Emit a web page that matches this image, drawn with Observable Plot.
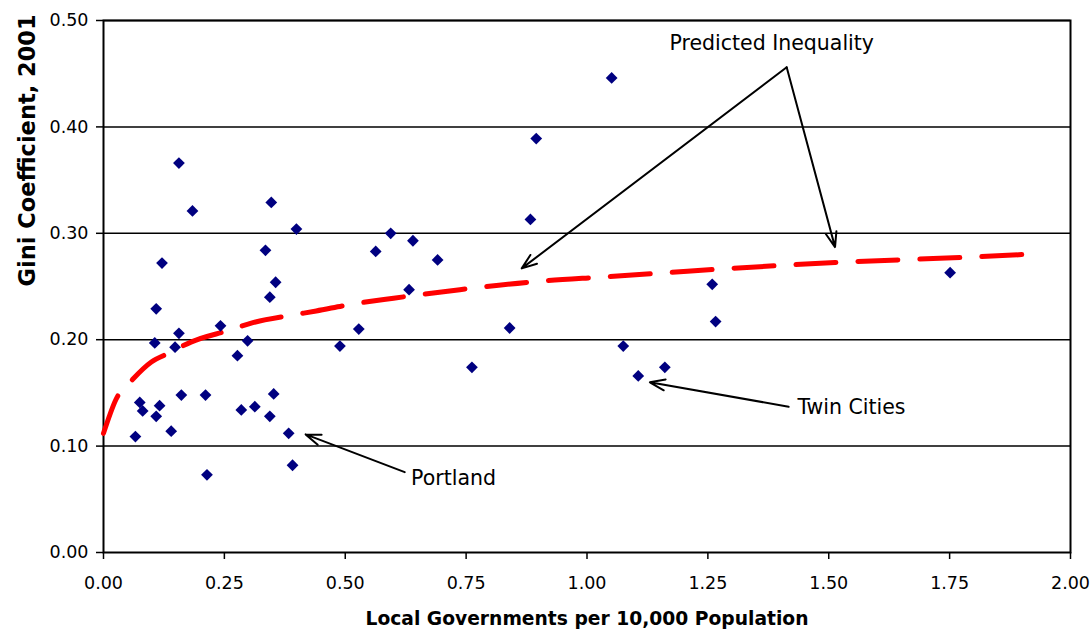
<!DOCTYPE html>
<html>
<head>
<meta charset="utf-8">
<script src="https://cdn.jsdelivr.net/npm/d3@7"></script>
<script src="https://cdn.jsdelivr.net/npm/@observablehq/plot@0.6"></script>
<style>
  html, body { margin: 0; padding: 0; background: #fff; }
</style>
</head>
<body>
<div id="chart"></div>
<script>
// Local governments per 10,000 population (x) and Gini coefficient 2001 (y)
const govs = [0.156, 0.184, 0.121, 0.109, 0.106, 0.148, 0.156, 0.242, 0.277, 0.298,
              0.335, 0.347, 0.356, 0.344, 0.399, 0.075, 0.081, 0.116, 0.109, 0.161,
              0.211, 0.066, 0.140, 0.285, 0.313, 0.344, 0.352, 0.383, 0.391, 0.214,
              0.489, 0.528, 0.563, 0.594, 0.640, 0.691, 0.632, 0.762, 0.840, 0.883,
              0.895, 1.051, 1.075, 1.106, 1.161, 1.259, 1.266, 1.751];
const gini = [0.366, 0.321, 0.272, 0.229, 0.197, 0.193, 0.206, 0.213, 0.185, 0.199,
              0.284, 0.329, 0.254, 0.240, 0.304, 0.141, 0.133, 0.138, 0.128, 0.148,
              0.148, 0.109, 0.114, 0.134, 0.137, 0.128, 0.149, 0.112, 0.082, 0.073,
              0.194, 0.210, 0.283, 0.300, 0.293, 0.275, 0.247, 0.174, 0.211, 0.313,
              0.389, 0.446, 0.194, 0.166, 0.174, 0.252, 0.217, 0.263];

// Predicted inequality curve
const predX = [0.000, 0.026, 0.061, 0.099, 0.133, 0.182, 0.261, 0.309, 0.389, 0.440,
               0.509, 0.600, 0.737, 0.903, 1.034, 1.165, 1.296, 1.513, 1.810, 1.944];
const predY = [0.112, 0.144, 0.163, 0.179, 0.187, 0.198, 0.209, 0.216, 0.223, 0.227,
               0.233, 0.239, 0.247, 0.255, 0.259, 0.263, 0.267, 0.2725, 0.278, 0.281];

// Tick values
const xTicks = [0, 0.25, 0.5, 0.75, 1.0, 1.25, 1.5, 1.75, 2.0];
const yTicks = [0, 0.1, 0.2, 0.3, 0.4, 0.5];

// Annotation labels and their arrows
const noteText = ["Predicted Inequality", "Portland", "Twin Cities"];
const noteX = [1.382, 0.724, 1.547];
const noteY = [0.478, 0.0695, 0.136];
const arrowX1 = [1.413, 1.413, 0.623, 1.417];
const arrowY1 = [0.456, 0.456, 0.0755, 0.137];
const arrowX2 = [0.865, 1.513, 0.418, 1.130];
const arrowY2 = [0.267, 0.287, 0.111, 0.160];

const xTitle = "Local Governments per 10,000 Population";
const yTitle = "Gini Coefficient, 2001";

const points = govs.map((x, i) => ({x, y: gini[i]}));
const curve = predX.map((x, i) => ({x, y: predY[i]}));
const notes = noteText.map((t, i) => ({t, x: noteX[i], y: noteY[i]}));
const arrows = arrowX1.map((x1, i) => ({x1, y1: arrowY1[i], x2: arrowX2[i], y2: arrowY2[i]}));

const chart = Plot.plot({
  width: 1092,
  height: 634,
  marginLeft: 103,
  marginRight: 22,
  marginTop: 20,
  marginBottom: 82,
  style: {fontFamily: "'DejaVu Sans', sans-serif", fontSize: "17.5px", color: "#000", background: "#fff"},
  x: {domain: [0, 2], label: null},
  y: {domain: [0, 0.5], label: null},
  marks: [
    Plot.ruleY(yTicks.filter(d => d > 0), {stroke: "#000", strokeWidth: 1.5}),
    Plot.frame({stroke: "#000", strokeWidth: 2}),
    Plot.axisX({ticks: xTicks, tickFormat: d3.format(".2f"), tickSize: 7, tickPadding: 17, label: null, fontSize: 17.5, stroke: "#000", strokeWidth: 1.5}),
    Plot.axisY({ticks: yTicks, tickFormat: d3.format(".2f"), tickSize: 7, tickPadding: 8, label: null, fontSize: 17.5, stroke: "#000", strokeWidth: 1.5}),
    Plot.line(curve, {x: "x", y: "y", stroke: "#ff0000", strokeWidth: 5, strokeDasharray: "40,22", curve: "monotone-x"}),
    Plot.dot(points, {x: "x", y: "y", symbol: "diamond2", r: 5.3, fill: "#000080", stroke: "none"}),
    Plot.arrow(arrows, {x1: "x1", y1: "y1", x2: "x2", y2: "y2", stroke: "#000", strokeWidth: 2, headLength: 12, headAngle: 40}),
    Plot.text(notes, {x: "x", y: "y", text: "t", fontSize: 20.5, fill: "#000"}),
    Plot.text([xTitle], {frameAnchor: "bottom", dy: 72, fontSize: 18.7, fontWeight: "bold", fill: "#000"}),
    Plot.text([yTitle], {frameAnchor: "left", dx: -76, rotate: -90, fontSize: 22.5, fontWeight: "bold", fill: "#000"})
  ]
});
document.getElementById("chart").append(chart);
</script>
</body>
</html>
